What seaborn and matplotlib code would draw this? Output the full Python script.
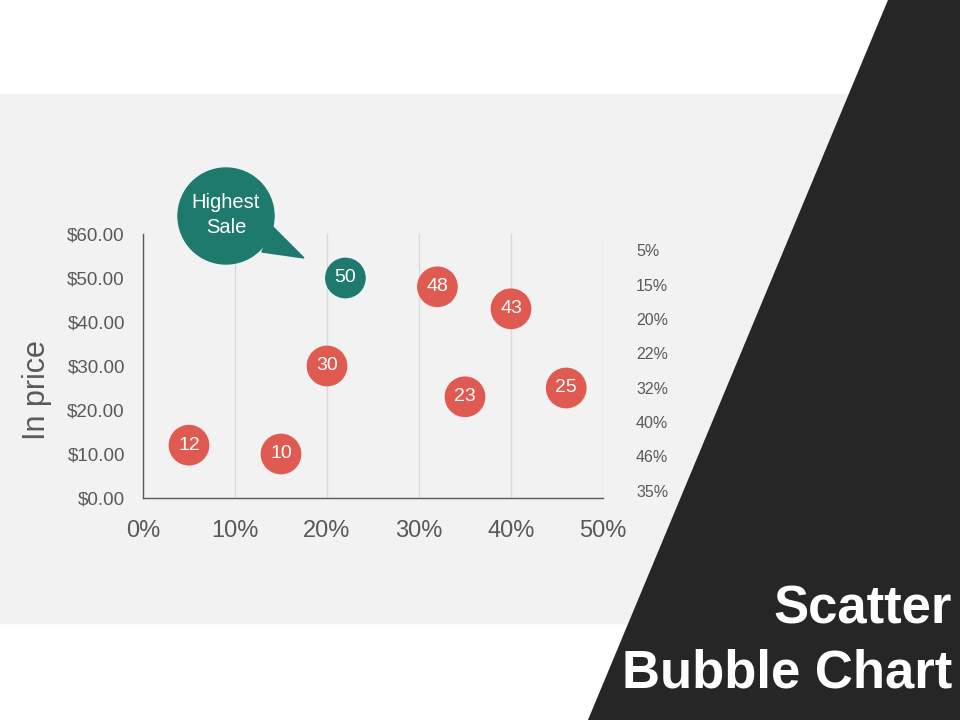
import pandas as pd
import seaborn as sns
import matplotlib.pyplot as plt
from matplotlib.patches import Rectangle, Polygon, Circle
from matplotlib.ticker import FuncFormatter

# chart values
x_share = [5, 15, 20, 22, 32, 40, 46, 35]
price = [12, 10, 30, 50, 48, 43, 25, 23]
highest = [False, False, False, True, False, False, False, False]
x_ticks = [0, 10, 20, 30, 40, 50]
y_ticks = [0, 10, 20, 30, 40, 50, 60]

df = pd.DataFrame({'share': x_share, 'price': price, 'highest': highest})

sns.set_theme(style='white')
plt.rcParams['font.family'] = ['Liberation Sans', 'DejaVu Sans']

teal = '#1F7A6E'
red = '#DF5A50'
grey_txt = '#595959'

fig = plt.figure(figsize=(9.6, 7.2), dpi=100)
fig.patch.set_facecolor('white')

# background layer in pixel coordinates
bg = fig.add_axes([0, 0, 1, 1])
bg.set_xlim(0, 960)
bg.set_ylim(720, 0)
bg.axis('off')
bg.add_patch(Rectangle((0, 94), 960, 529, color='#F2F2F2', zorder=0))
bg.add_patch(Polygon([(888, 0), (960, 0), (960, 720), (588, 720)], closed=True,
                     color='#262626', zorder=1))
bg.text(952, 623, 'Scatter', ha='right', va='baseline', fontsize=38,
        fontweight='bold', color='white')
bg.text(952, 688, 'Bubble Chart', ha='right', va='baseline', fontsize=38,
        fontweight='bold', color='white')

# side column of shares
for i, v in enumerate(x_share):
    bg.text(636, 252 + i * 34.3, f'{v}%', ha='left', va='center', fontsize=11.5,
            color=grey_txt)

# main chart
ax = fig.add_axes([143 / 960, 1 - 498 / 720, 460 / 960, 264 / 720])
ax.set_facecolor('none')
sns.scatterplot(data=df, x='share', y='price', hue='highest',
                palette={False: red, True: teal}, s=860, linewidth=0,
                legend=False, ax=ax, zorder=3, clip_on=False)
for _, r in df.iterrows():
    ax.text(r['share'], r['price'], f"{r['price']}", ha='center', va='center',
            fontsize=14, color='white', zorder=4)

ax.set_xlim(0, 50)
ax.set_ylim(0, 60)
ax.set_xticks(x_ticks)
ax.set_yticks(y_ticks)
ax.xaxis.set_major_formatter(FuncFormatter(lambda v, p: f'{v:.0f}%'))
ax.yaxis.set_major_formatter(FuncFormatter(lambda v, p: f'${v:.2f}'))
ax.tick_params(axis='x', labelsize=17, colors=grey_txt, length=0, pad=16)
ax.tick_params(axis='y', labelsize=13.5, colors=grey_txt, length=0, pad=13)
ax.grid(axis='x', color='#D9D9D9', linewidth=1)
ax.set_axisbelow(True)
for side in ['top', 'right']:
    ax.spines[side].set_visible(False)
for side in ['left', 'bottom']:
    ax.spines[side].set_color(grey_txt)
    ax.spines[side].set_linewidth(1)
ax.set_xlabel('')
ax.set_ylabel('In price', fontsize=22, color=grey_txt)
ax.yaxis.set_label_coords(-0.198, 0.41)

# speech bubble on top of the chart
top = fig.add_axes([0, 0, 1, 1])
top.set_xlim(0, 960)
top.set_ylim(720, 0)
top.axis('off')
top.add_patch(Polygon([(272, 226), (304, 258), (262, 252)], closed=True, color=teal))
top.add_patch(Circle((226, 216), 48, color=teal))
top.text(226, 215, 'Highest\nSale', ha='center', va='center', fontsize=14.5,
         color='white', linespacing=1.35)

fig.savefig('out.png', dpi=100)
